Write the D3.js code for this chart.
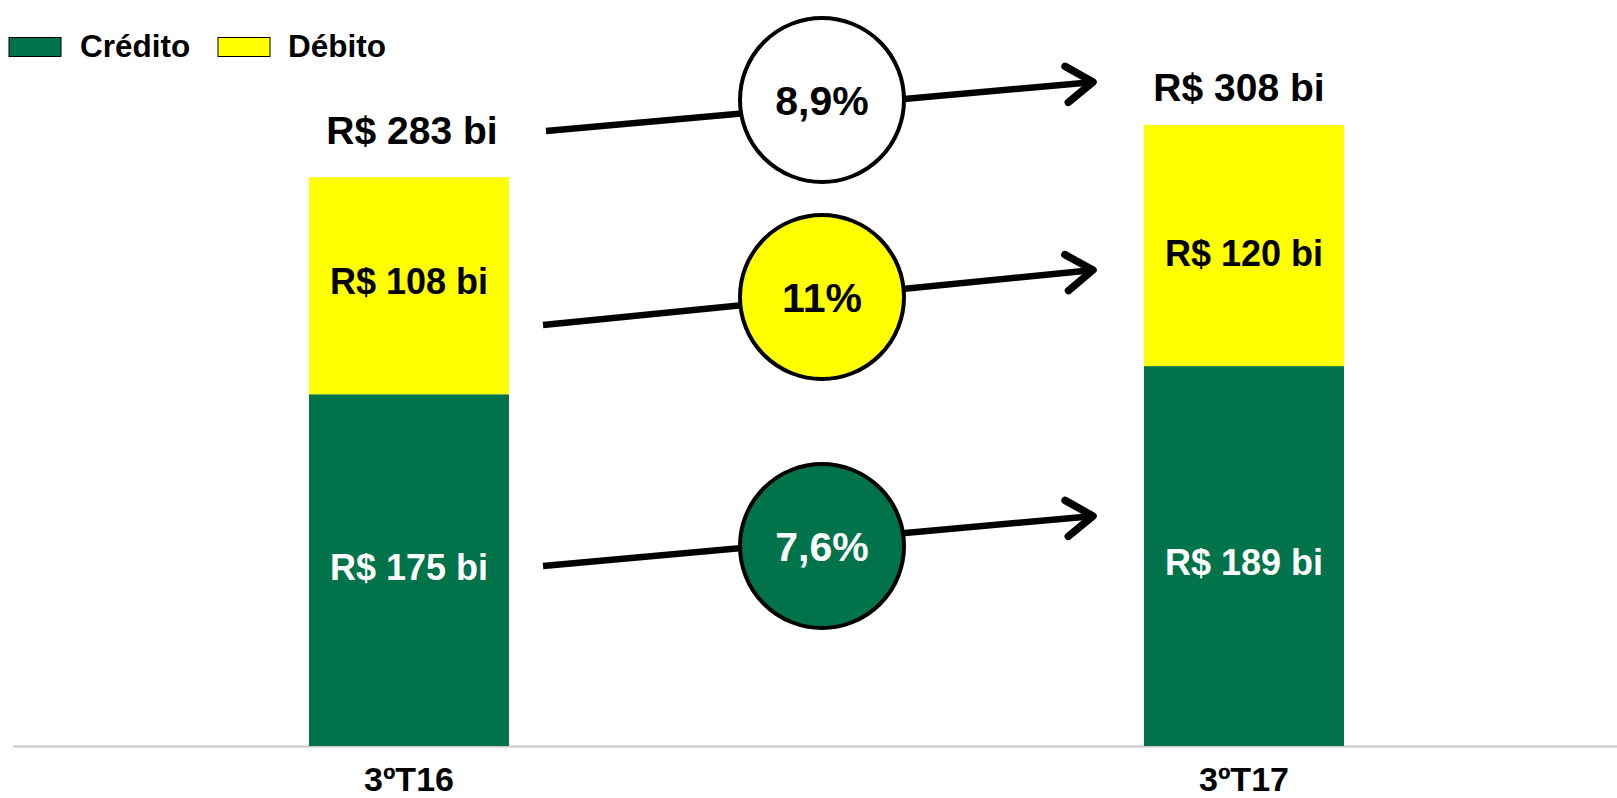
<!DOCTYPE html>
<html><head><meta charset="utf-8">
<script src="https://cdn.jsdelivr.net/npm/d3@7/dist/d3.min.js"></script>
<style>body{margin:0;background:#fff}svg{display:block;font-family:"Liberation Sans",Arial,sans-serif}</style>
</head><body>
<svg id="c" width="1617" height="798"></svg>
<script>
const categories = ["3ºT16", "3ºT17"];
const credito = [175, 189];
const debito = [108, 120];
const totals = [283, 308];
const totalLabels = ["R$ 283 bi", "R$ 308 bi"];
const creditoLabels = ["R$ 175 bi", "R$ 189 bi"];
const debitoLabels = ["R$ 108 bi", "R$ 120 bi"];
const growthLabels = ["8,9%", "11%", "7,6%"];
const seriesNames = ["Crédito", "Débito"];

const GREEN = "#00734A", YELLOW = "#FFFF00";
const svg = d3.select("#c");
const x = d3.scaleBand().domain(categories).range([309, 1344]).paddingInner(0.7605).paddingOuter(0);
const bw = x.bandwidth();
const y = d3.scaleLinear().domain([0, 308]).range([746, 746 - 308 * 2.01]);

// axis line
svg.append("line").attr("x1", 13).attr("x2", 1617).attr("y1", 746.5).attr("y2", 746.5)
  .attr("stroke", "#c8c8c8").attr("stroke-width", 2);

const g = svg.append("g");
categories.forEach((c, i) => {
  const x0 = x(c);
  g.append("rect").attr("x", x0).attr("width", bw).attr("y", y(credito[i])).attr("height", y(0) - y(credito[i])).attr("fill", GREEN);
  g.append("rect").attr("x", x0).attr("width", bw).attr("y", y(credito[i] + debito[i])).attr("height", y(credito[i]) - y(credito[i] + debito[i])).attr("fill", YELLOW);
  g.append("text").attr("x", x0 + bw / 2).attr("y", (y(0) + y(credito[i])) / 2 + (i === 0 ? -3 : 6)).attr("dy", "0.36em")
    .attr("text-anchor", "middle").attr("font-size", 36).attr("font-weight", "bold").attr("fill", "#fff").text(creditoLabels[i]);
  g.append("text").attr("x", x0 + bw / 2).attr("y", (y(credito[i]) + y(credito[i] + debito[i])) / 2 + (i === 0 ? -5 : 8)).attr("dy", "0.36em")
    .attr("text-anchor", "middle").attr("font-size", 36).attr("font-weight", "bold").attr("fill", "#000").text(debitoLabels[i]);
  g.append("text").attr("x", x0 + bw / 2 + (i === 0 ? 3 : -5)).attr("y", y(totals[i]) - (i === 0 ? 47 : 40)).attr("dy", "0.36em")
    .attr("text-anchor", "middle").attr("font-size", 39).attr("font-weight", "bold").attr("fill", "#000").text(totalLabels[i]);
  g.append("text").attr("x", x0 + bw / 2).attr("y", 779).attr("dy", "0.36em")
    .attr("text-anchor", "middle").attr("font-size", 34).attr("font-weight", "bold").attr("fill", "#000").text(c);
});

// growth arrows
const cx = 822, R = 82;
const arrows = [
  {x1: 546, y1: 131, x2: 1093, y2: 82, cy: 100, fill: "#fff", tc: "#000"},
  {x1: 543, y1: 325, x2: 1093, y2: 270, cy: 297, fill: YELLOW, tc: "#000"},
  {x1: 543, y1: 566, x2: 1093, y2: 516, cy: 546, fill: GREEN, tc: "#fff"}
];
arrows.forEach((a, i) => {
  g.append("line").attr("x1", a.x1).attr("y1", a.y1).attr("x2", a.x2 - 4).attr("y2", a.y2 + 0.4)
    .attr("stroke", "#000").attr("stroke-width", 6.5);
  const ang = Math.atan2(a.y2 - a.y1, a.x2 - a.x1);
  const L = 32, sp = 0.6;
  const p1 = [a.x2 - L * Math.cos(ang - sp), a.y2 - L * Math.sin(ang - sp)];
  const p2 = [a.x2 - L * Math.cos(ang + sp), a.y2 - L * Math.sin(ang + sp)];
  g.append("path").attr("d", `M${p1[0]},${p1[1]}L${a.x2},${a.y2}L${p2[0]},${p2[1]}`)
    .attr("fill", "none").attr("stroke", "#000").attr("stroke-width", 7.5).attr("stroke-linecap", "round").attr("stroke-linejoin", "round");
  g.append("circle").attr("cx", cx).attr("cy", a.cy).attr("r", R).attr("fill", a.fill).attr("stroke", "#000").attr("stroke-width", 4);
  g.append("text").attr("x", cx).attr("y", a.cy).attr("dy", "0.36em").attr("text-anchor", "middle")
    .attr("font-size", 41).attr("font-weight", "bold").attr("fill", a.tc).text(growthLabels[i]);
});

// legend
const legend = svg.append("g");
[[9, 80, GREEN], [218, 288, YELLOW]].forEach((p, i) => {
  legend.append("rect").attr("x", p[0]).attr("y", 37.5).attr("width", 52).attr("height", 19).attr("fill", p[2]).attr("stroke", "#000").attr("stroke-width", 1);
  legend.append("text").attr("x", p[1]).attr("y", 46).attr("dy", "0.36em").attr("font-size", 31.5).attr("font-weight", "bold").text(seriesNames[i]);
});
</script>
</body></html>
